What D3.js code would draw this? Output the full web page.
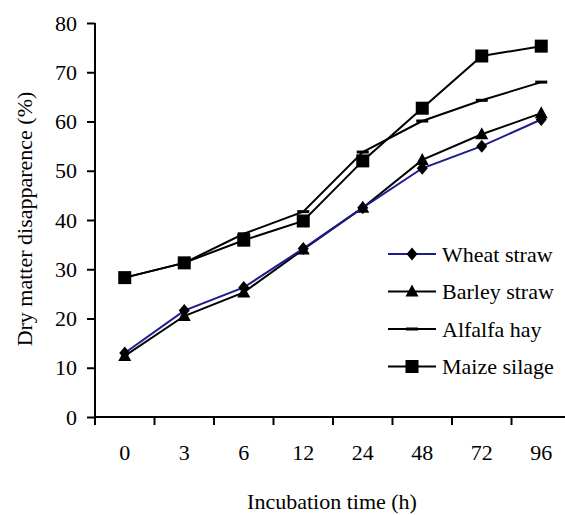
<!DOCTYPE html>
<html>
<head>
<meta charset="utf-8">
<script src="https://cdn.jsdelivr.net/npm/d3@7"></script>
<style>
  body { margin: 0; background: #fff; }
  text { font-family: "Liberation Serif", "DejaVu Serif", serif; }
</style>
</head>
<body>
<script>
const [width, height] = [565, 515];
const margin = ({top: 23, right: -6, bottom: 98, left: 95});
const fontSize = 22;

const hours = ["0", "3", "6", "12", "24", "48", "72", "96"];
const yTicks = [0, 10, 20, 30, 40, 50, 60, 70, 80];

const wheatStraw = [13, 21.6, 26.3, 34.2, 42.5, 50.5, 55, 60.4];
const barleyStraw = [12.4, 20.5, 25.3, 34, 42.5, 52.2, 57.4, 61.7];
const alfalfaHay = [28.3, 31.3, 37.2, 41.7, 53.8, 60.1, 64.3, 68];
const maizeSilage = [28.3, 31.3, 35.9, 39.8, 52, 62.7, 73.3, 75.3];

const seriesNames = ["Wheat straw", "Barley straw", "Alfalfa hay", "Maize silage"];

const series = [
    {name: seriesNames[0], values: wheatStraw, color: "#1c1c8c", marker: "diamond"},
    {name: seriesNames[1], values: barleyStraw, color: "#000", marker: "triangle"},
    {name: seriesNames[2], values: alfalfaHay, color: "#000", marker: "dash"},
    {name: seriesNames[3], values: maizeSilage, color: "#000", marker: "square"},
];

const svg = d3.select("body").append("svg")
    .attr("width", width)
    .attr("height", height)
    .attr("viewBox", [0, 0, width, height]);

const x = d3.scaleBand()
    .domain(hours)
    .range([margin.left, width - margin.right]);

const y = d3.scaleLinear()
    .domain([0, 80])
    .range([height - margin.bottom, margin.top]);

const xAxis = (g) => g
    .attr("transform", `translate(0,${height - margin.bottom})`)
    .call(d3.axisBottom(x).tickSize(0).tickPadding(27))
    .call(g => g.select(".domain").attr("stroke-width", 2).attr("d", `M${margin.left},0H${width - margin.right}`))
    .call(g => g.selectAll(".tick text").attr("font-size", fontSize).attr("fill", "#000"))
    .call(g => g.append("g")
        .selectAll("line")
        .data(hours)
        .join("line")
            .attr("x1", d => x(d))
            .attr("x2", d => x(d))
            .attr("y1", 0)
            .attr("y2", 8)
            .attr("stroke", "#000")
            .attr("stroke-width", 2));

const yAxis = (g) => g
    .attr("transform", `translate(${margin.left},0)`)
    .call(d3.axisLeft(y).tickValues(yTicks).tickSize(8).tickPadding(10))
    .call(g => g.select(".domain").attr("stroke-width", 2).attr("d", `M0,${y(80)}V${y(0)}`))
    .call(g => g.selectAll(".tick line").attr("stroke-width", 2))
    .call(g => g.selectAll(".tick text").attr("font-size", fontSize).attr("fill", "#000"));

svg.append("g").call(xAxis);
svg.append("g").call(yAxis);

svg.append("text")
    .attr("x", 332)
    .attr("y", 509)
    .attr("text-anchor", "middle")
    .attr("font-size", fontSize)
    .text("Incubation time (h)");

svg.append("text")
    .attr("transform", `translate(32,219) rotate(-90)`)
    .attr("text-anchor", "middle")
    .attr("font-size", fontSize)
    .text("Dry matter disapparence (%)");

const cx = d => x(d) + x.bandwidth() / 2;

const drawMarker = (g, type) => {
    if (type === "diamond") {
        g.append("path").attr("d", "M0,-6.5L5.5,0L0,6.5L-5.5,0Z").attr("fill", "#000");
    } else if (type === "triangle") {
        g.append("path").attr("d", "M0,-7L6.5,5L-6.5,5Z").attr("fill", "#000");
    } else if (type === "dash") {
        g.append("rect").attr("x", -6).attr("y", -1.5).attr("width", 12).attr("height", 3).attr("fill", "#000");
    } else {
        g.append("rect").attr("x", -6.5).attr("y", -6.5).attr("width", 13).attr("height", 13).attr("fill", "#000");
    }
};

const line = d3.line()
    .x((d, i) => cx(hours[i]))
    .y(d => y(d));

// draw back to front so wheat straw sits on top
[...series].reverse().forEach(s => {
    svg.append("path")
        .datum(s.values)
        .attr("fill", "none")
        .attr("stroke", s.color)
        .attr("stroke-width", 2)
        .attr("d", line);

    svg.append("g")
        .selectAll("g")
        .data(s.values)
        .join("g")
            .attr("transform", (d, i) => `translate(${cx(hours[i])},${y(d)})`)
            .each(function() { drawMarker(d3.select(this), s.marker); });
});

// legend
const legend = svg.append("g")
    .selectAll("g")
    .data(series)
    .join("g")
        .attr("transform", (d, i) => `translate(388,${254 + i * 37.5})`);

legend.append("line")
    .attr("x1", 0)
    .attr("x2", 48)
    .attr("stroke", d => d.color)
    .attr("stroke-width", 2);

legend.append("g")
    .attr("transform", "translate(24,0)")
    .each(function(d) { drawMarker(d3.select(this), d.marker); });

legend.append("text")
    .attr("x", 54)
    .attr("dy", "0.35em")
    .attr("font-size", fontSize)
    .text(d => d.name);
</script>
</body>
</html>
